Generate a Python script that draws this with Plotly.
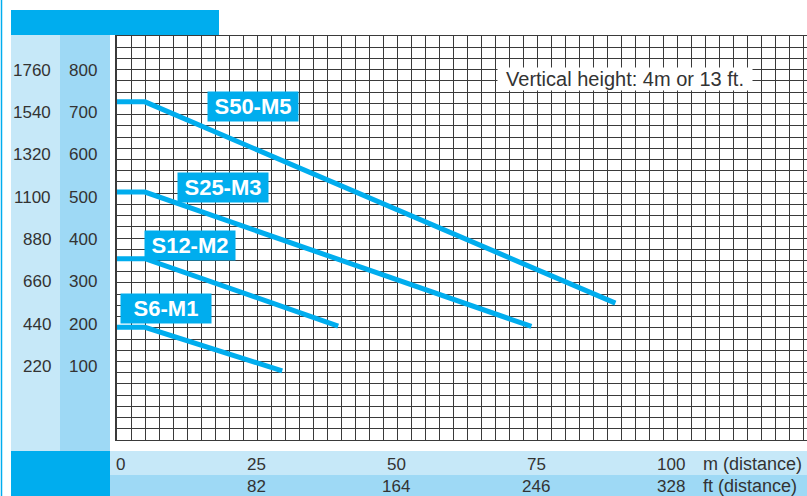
import plotly.graph_objects as go

# ---------------- data ----------------
series_names = ["S50-M5", "S25-M3", "S12-M2", "S6-M1"]
series_x = [[0, 5, 89], [0, 5, 74], [0, 5, 39.5], [0, 5, 29.5]]
series_y = [[725, 725, 250], [512, 512, 195], [355, 355, 196], [193, 193, 90]]
label_x = [24.2, 19.0, 13.1, 8.8]
label_y = [715, 524, 387, 238]

y_ticks_kg = [800, 700, 600, 500, 400, 300, 200, 100]
y_ticks_lb = ["1760", "1540", "1320", "1100", "880", "660", "440", "220"]
x_ticks_m = [0, 25, 50, 75, 100]
x_ticks_ft = ["", "82", "164", "246", "328"]

note_text = "Vertical height: 4m or 13 ft."
unit_m = "m (distance)"
unit_ft = "ft (distance)"

# ---------------- layout geometry ----------------
W, H = 807, 496
L, R, T, B = 117, 807, 36, 440
PX_PER_M = 5.6
PX_PER_U = 0.4238
Y0_PX = 409.1

x_range = [0, (R - L) / PX_PER_M]
y_range = [(Y0_PX - B) / PX_PER_U, (Y0_PX - T) / PX_PER_U]
y_dtick = (y_range[1] - y_range[0]) / 36

def fx(px):
    return (px - L) / (R - L)

def fy(py):
    return (B - py) / (B - T)

BLUE = "#00adee"
LIGHT = "#c6e8f8"
MID = "#9ed9f5"
TXT = "#333333"
GRID = "#3a3a3a"
FONT = "Liberation Sans"

fig = go.Figure()

for nm, xs, ys in zip(series_names, series_x, series_y):
    fig.add_trace(go.Scatter(x=xs, y=ys, mode="lines", name=nm,
                             line=dict(color=BLUE, width=5),
                             showlegend=False, hoverinfo="skip"))

shapes = []
def rect(x0, y0, x1, y1, color):
    shapes.append(dict(type="rect", xref="paper", yref="paper",
                       x0=fx(x0), x1=fx(x1), y0=fy(y1), y1=fy(y0),
                       fillcolor=color, line=dict(width=0), layer="below"))

rect(11, 10, 219, 35, BLUE)
rect(11, 35, 60, 451, LIGHT)
rect(60, 35, 110, 451, MID)
rect(11, 451, 110, 496, BLUE)
rect(110, 451, 807, 475, LIGHT)
rect(110, 475, 807, 496, MID)
shapes.append(dict(type="line", xref="paper", yref="paper",
                   x0=fx(1.5), x1=fx(1.5), y0=fy(496), y1=fy(0),
                   line=dict(color=BLUE, width=1.5), layer="below"))

ann = []
# series labels
for nm, lx, ly in zip(series_names, label_x, label_y):
    ann.append(dict(x=lx, y=ly, xref="x", yref="y", text=nm, showarrow=False,
                    bgcolor=BLUE, borderpad=2, width=86, height=25,
                    font=dict(family=FONT, size=22, color="white", weight="bold")))
# note
ann.append(dict(x=(625 - L) / PX_PER_M, y=(Y0_PX - 79) / PX_PER_U, xref="x", yref="y",
                text=note_text, showarrow=False, bgcolor="white", borderpad=0,
                width=254, height=22, font=dict(family=FONT, size=20, color=TXT)))
# y labels
for v, lb in zip(y_ticks_kg, y_ticks_lb):
    ann.append(dict(x=fx(53), y=v, xref="paper", yref="y", text=lb, showarrow=False,
                    xanchor="right", yanchor="middle",
                    font=dict(family=FONT, size=17, color=TXT)))
    ann.append(dict(x=fx(99), y=v, xref="paper", yref="y", text=str(v), showarrow=False,
                    xanchor="right", yanchor="middle",
                    font=dict(family=FONT, size=17, color=TXT)))
# x labels
for m, ft in zip(x_ticks_m, x_ticks_ft):
    anchor = "left" if m == 0 else "center"
    shift = -3 if m == 0 else (-6 if m == 100 else -1)
    ann.append(dict(x=m, y=fy(464), xref="x", yref="paper", text=str(m), showarrow=False,
                    xanchor=anchor, yanchor="middle", xshift=shift,
                    font=dict(family=FONT, size=17, color=TXT)))
    if ft:
        ann.append(dict(x=m, y=fy(486), xref="x", yref="paper", text=ft, showarrow=False,
                        xanchor=anchor, yanchor="middle", xshift=shift,
                        font=dict(family=FONT, size=17, color=TXT)))
ux = (701 - L) / PX_PER_M
ann.append(dict(x=ux, y=fy(464), xref="x", yref="paper", text=unit_m, showarrow=False,
                xanchor="left", yanchor="middle", font=dict(family=FONT, size=18, color=TXT)))
ann.append(dict(x=ux, y=fy(486), xref="x", yref="paper", text=unit_ft, showarrow=False,
                xanchor="left", yanchor="middle", font=dict(family=FONT, size=18, color=TXT)))

fig.update_layout(
    width=W, height=H, margin=dict(l=L, r=W - R, t=T, b=H - B),
    paper_bgcolor="white", plot_bgcolor="white",
    shapes=shapes, annotations=ann, showlegend=False,
    xaxis=dict(range=x_range, tick0=0, dtick=2.5, showgrid=True, gridcolor=GRID,
               gridwidth=1.4, zeroline=False, showticklabels=False, ticks="",
               showline=True, linecolor=GRID, linewidth=1.4, mirror=True, fixedrange=True),
    yaxis=dict(range=y_range, tick0=y_range[0], dtick=y_dtick, showgrid=True, gridcolor=GRID,
               gridwidth=1.4, zeroline=False, showticklabels=False, ticks="",
               showline=True, linecolor=GRID, linewidth=1.6, fixedrange=True),
)

fig.write_html("out.html", config={"displayModeBar": False},
               post_script="document.body.style.margin='0';document.body.style.overflow='hidden';")
